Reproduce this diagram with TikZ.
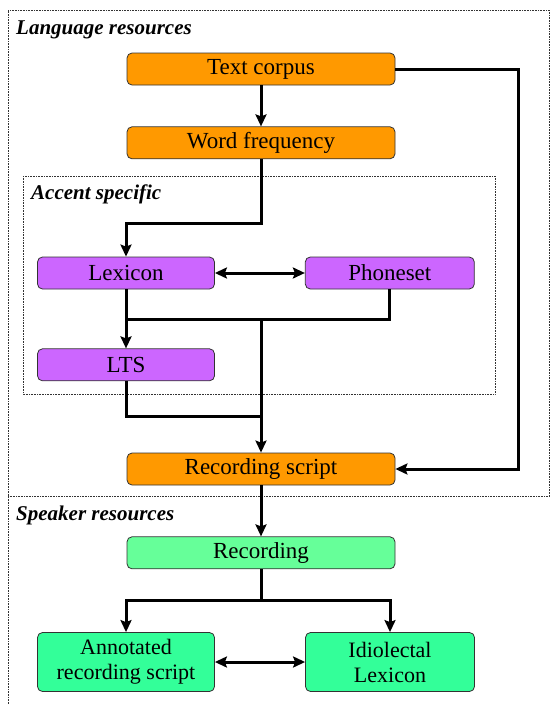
\documentclass[tikz,border=0pt]{standalone}
\usepackage{fontspec}
\setmainfont{Liberation Serif}
\usetikzlibrary{positioning,arrows.meta}

\definecolor{langorange}{HTML}{FF9900}
\definecolor{accentviolet}{HTML}{CC66FF}
\definecolor{reclight}{HTML}{66FF99}
\definecolor{spkgreen}{HTML}{33FF99}

\begin{document}
\begin{tikzpicture}[x=1pt,y=-1pt,
	box/.style={draw=black!80,line width=0.8pt,rounded corners=5pt,inner sep=0pt,align=center,font=\fontsize{23}{25}\selectfont},
	lang node/.style={box,fill=langorange,minimum width=268pt,minimum height=32pt},
	accent node/.style={box,fill=accentviolet,minimum height=32pt},
	spk node/.style={box,fill=spkgreen,minimum height=59pt,font=\fontsize{22}{25}\selectfont},
	frame/.style={densely dotted,line width=0.6pt,black!80},
	title/.style={anchor=base west,inner sep=0pt,font=\fontsize{21}{24}\selectfont\bfseries\itshape},
	line/.style={line width=3pt},
	conn/.style={line,-{Stealth[length=12pt,width=11pt,inset=2pt]}},
	dconn/.style={line,{Stealth[length=12pt,width=11pt,inset=2pt]}-{Stealth[length=12pt,width=11pt,inset=2pt]}}]

\useasboundingbox (0,0) rectangle (550,704);

% frames
\draw[frame] (8,704) -- (8,10) -- (549,10) -- (549,496);
\draw[frame] (8,496) -- (550,496);
\draw[frame] (23,176) rectangle (495,394);
\node[title] (langtitle) at (16,34) {Language resources};
\node[title] (spktitle) at (16,520) {Speaker resources};
\node[title] (accenttitle) at (31,199) {Accent specific};

% nodes
\node[lang node] (corpus) at (261,69) {Text corpus};
\node[lang node] (freq) [below=41pt of corpus] {Word frequency};
\node[accent node,minimum width=177pt] (lexicon) at (126,273) {Lexicon};
\node[accent node,minimum width=169pt] (phoneset) [right=90pt of lexicon] {Phoneset};
\node[accent node,minimum width=177pt] (lts) [below=59pt of lexicon] {LTS};
\node[lang node] (script) at (261,469) {Recording script};
\node[lang node,fill=reclight] (recording) [below=51pt of script] {Recording};
\node[spk node,minimum width=177pt] (annot) at (126,662) {Annotated\\recording script};
\node[spk node,minimum width=169pt] (idio) at (390,662) {Idiolectal\\Lexicon};

\coordinate (merge) at (261,319);
\coordinate (ltsjoin) at (261,416);
\coordinate (split) at (261,600);

% connectors
\draw[conn] (corpus) -- (freq);
\draw[conn] (freq.south) -- ++(0,64) -| (lexicon.north);
\draw[conn] (corpus.east) -- ++(123,0) |- (script.east);
\draw[dconn] (lexicon) -- (phoneset);
\draw[conn] (lexicon) -- (lts);
\draw[line] (phoneset.south) |- (merge) -- (merge -| lexicon.south);
\draw[conn] (merge) -- (script.north);
\draw[line] (lts.south) |- (ltsjoin);
\draw[conn] (script) -- (recording);
\draw[line] (recording.south) -- (split);
\draw[conn] (split) -| (annot.north);
\draw[conn] (split) -| (idio.north);
\draw[dconn] (annot) -- (idio);
\end{tikzpicture}
\end{document}
